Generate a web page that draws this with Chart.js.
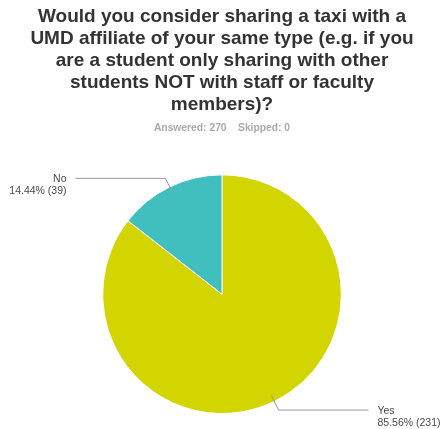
<!DOCTYPE html>
<html>
<head>
<meta charset="utf-8">
<script src="https://cdn.jsdelivr.net/npm/chart.js@4"></script>
<style>
  html, body { margin: 0; padding: 0; background: #fff; }
  #wrap { width: 441px; height: 429px; }
</style>
</head>
<body>
<div id="wrap"><canvas id="pie"></canvas></div>
<script>
// ---------- Dados ----------
const answers = ['Yes', 'No'];
const counts  = [231, 39];
const colors  = ['#d3d500', '#41bfbf'];
const titleLines = [
  'Would you consider sharing a taxi with a',
  'UMD affiliate of your same type (e.g. if you',
  'are a student only sharing with other',
  'students NOT with staff or faculty',
  'members)?'
];
const subtitleText = 'Answered: 270    Skipped: 0';

const total = counts.reduce((a, b) => a + b, 0);

// ---------- Rótulos com linha guia ----------
const leaderLabels = {
  id: 'leaderLabels',
  afterDatasetsDraw(chart) {
    const { ctx } = chart;
    const meta = chart.getDatasetMeta(0);
    ctx.save();
    meta.data.forEach((arc, i) => {
      const p = arc.getProps(['x', 'y', 'startAngle', 'endAngle', 'outerRadius'], true);
      const mid = (p.startAngle + p.endAngle) / 2;
      const r = p.outerRadius;
      const x1 = p.x + Math.cos(mid) * r * 0.95, y1 = p.y + Math.sin(mid) * r * 0.95;
      const x2 = p.x + Math.cos(mid) * r * 1.08, y2 = p.y + Math.sin(mid) * r * 1.08;
      const right = Math.cos(mid) >= 0;
      const x3 = right ? x2 + 90 : x2 - 90;

      ctx.strokeStyle = '#9a9a9a';
      ctx.lineWidth = 1;
      ctx.beginPath();
      ctx.moveTo(x1, y1);
      ctx.lineTo(x2, y2);
      ctx.lineTo(x3, y2);
      ctx.stroke();

      const pct = (counts[i] / total * 100).toFixed(2) + '% (' + counts[i] + ')';
      ctx.fillStyle = '#4a4a4a';
      ctx.font = '10.5px "Liberation Sans", Arial, sans-serif';
      ctx.textBaseline = 'middle';
      ctx.textAlign = right ? 'left' : 'right';
      const tx = right ? x3 + 9 : x3 - 9;
      ctx.fillText(answers[i], tx, y2 + 1);
      ctx.fillText(pct, tx, y2 + 13);
    });
    ctx.restore();
  }
};

new Chart(document.getElementById('pie'), {
  type: 'pie',
  data: {
    labels: answers,
    datasets: [{
      data: counts,
      backgroundColor: colors,
      borderColor: '#fff',
      borderWidth: 1
    }]
  },
  options: {
    responsive: true,
    maintainAspectRatio: false,
    animation: false,
    layout: { padding: { left: 3, right: 0, top: 0, bottom: 15 } },
    plugins: {
      legend: { display: false },
      tooltip: { enabled: false },
      title: {
        display: true,
        text: titleLines,
        color: '#333',
        font: { family: '"Liberation Sans", Arial, sans-serif', size: 19, weight: 'bold', lineHeight: 22 / 19 },
        padding: { top: 6, bottom: 6 }
      },
      subtitle: {
        display: true,
        text: subtitleText,
        color: '#aaa',
        font: { family: '"Liberation Sans", Arial, sans-serif', size: 10.3, weight: 'bold', lineHeight: 1.2 },
        padding: { top: 0, bottom: 40 }
      }
    }
  },
  plugins: [leaderLabels]
});
</script>
</body>
</html>
